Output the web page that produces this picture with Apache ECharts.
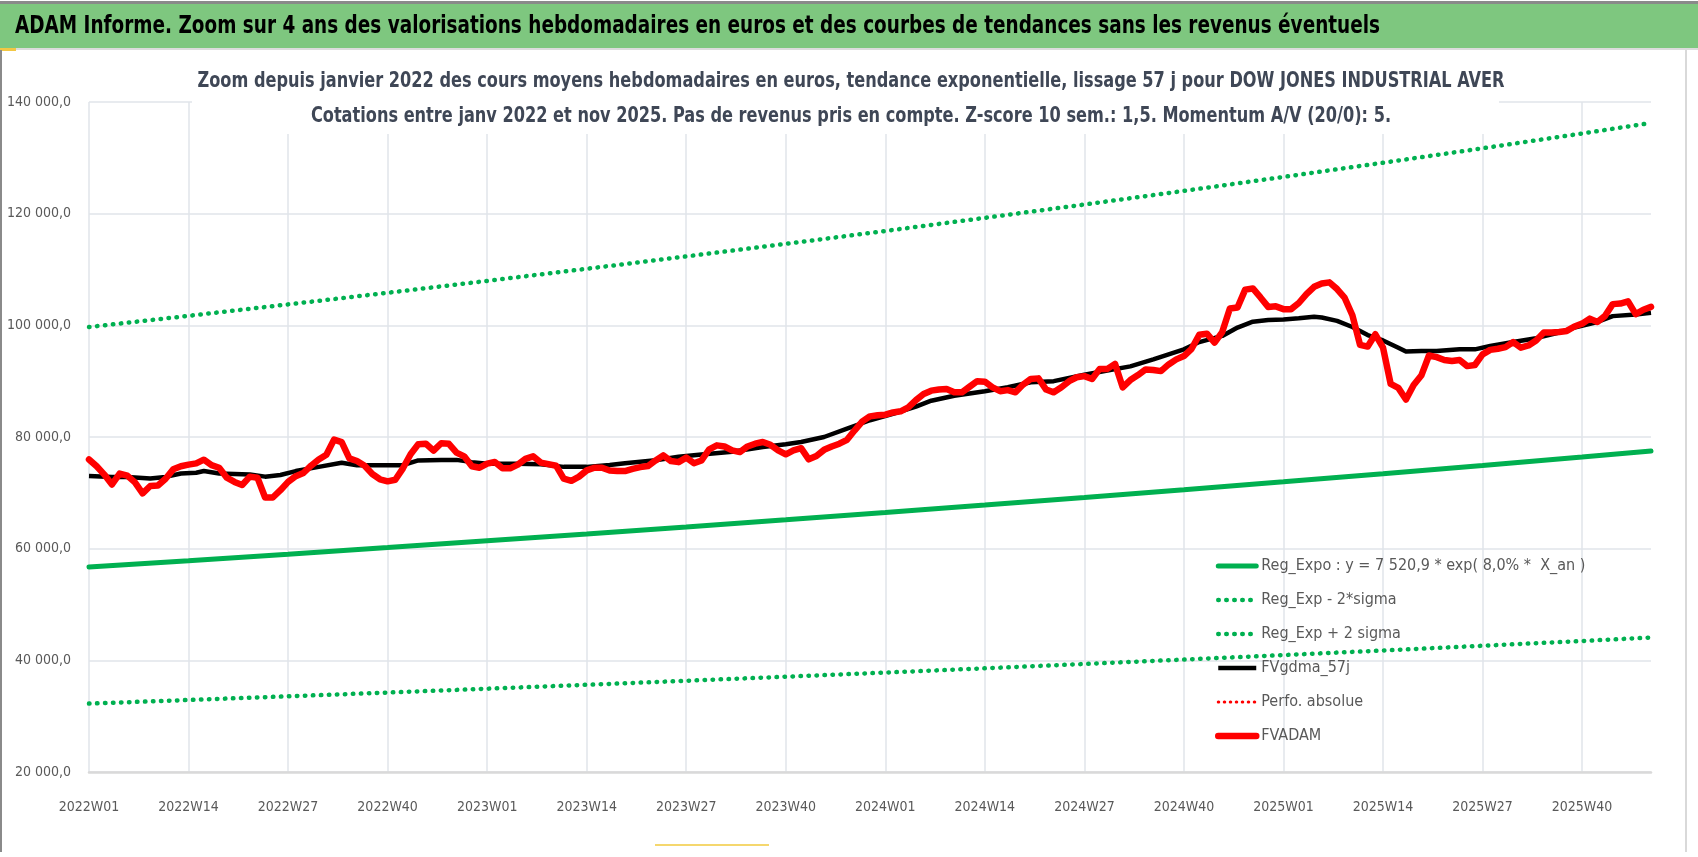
<!DOCTYPE html>
<html>
<head>
<meta charset="utf-8">
<title>ADAM Informe - DOW JONES INDUSTRIAL AVER</title>
<script src="https://cdn.jsdelivr.net/npm/echarts@6/dist/echarts.min.js"></script>
<style>
html, body { margin: 0; padding: 0; background: #fff; }
#chart { width: 1698px; height: 857px; }
</style>
</head>
<body>
<div id="chart"></div>
<script>
// libellés de l'axe X (une graduation toutes les 13 semaines)
const weekTicks = ['2022W01', '2022W14', '2022W27', '2022W40', '2023W01', '2023W14', '2023W27', '2023W40',
  '2024W01', '2024W14', '2024W27', '2024W40', '2025W01', '2025W14', '2025W27', '2025W40'];

// semaines (index depuis 2022W01) où les tendances ont été relevées
const trendWeeks = [0, 13, 26, 39, 52, 65, 78, 91, 104, 117, 130, 143, 156, 169, 182, 195, 204];
const regExpo = [56700, 57840, 59000, 60190, 61400, 62630, 63890, 65170, 66480, 67820, 69180, 70570, 71990, 73430, 74910, 76410, 77510];
const regExpMinus = [32250, 32900, 33560, 34230, 34920, 35620, 36340, 37070, 37810, 38570, 39350, 40140, 40940, 41770, 42610, 43460, 44090];
const regExpPlus = [99700, 101700, 103750, 105830, 107960, 110130, 112340, 114590, 116900, 119250, 121640, 124080, 126580, 129120, 131710, 134360, 136250];

// FVgdma_57j, relevé de la courbe noire
const fvgdmaWeeks = [0, 3, 5, 8, 10, 12, 14, 15, 17, 21, 23, 25, 27, 30, 33, 35, 38, 41, 43, 46,
  48, 50, 52, 56, 59, 62, 65, 68, 70, 74, 77, 80, 84, 88, 91, 93, 96, 99, 102, 105,
  108, 110, 113, 117, 120, 123, 126, 130, 133, 136, 139, 141, 143, 145, 148, 150, 152, 154, 156, 158,
  160, 161, 163, 165, 167, 169, 171, 172, 174, 176, 179, 181, 183, 186, 189, 192, 194, 197, 199, 202, 204];
const fvgdma = [73000, 72850, 72850, 72550, 72850, 73450, 73600, 73900, 73450, 73300, 72900, 73200, 73900, 74650, 75400, 74950, 74950, 74950, 75800, 75900,
  75900, 75500, 75200, 75200, 75100, 74650, 74650, 75000, 75300, 75850, 76450, 76850, 77350, 78200, 78700, 79100, 80000, 81500, 83000, 84150,
  85450, 86500, 87400, 88200, 88900, 89800, 90000, 91150, 91900, 92650, 93900, 94800, 95700, 97000, 98100, 99600, 100650, 100950, 101050, 101250,
  101550, 101400, 100800, 99700, 98250, 97300, 96000, 95300, 95400, 95400, 95700, 95700, 96300, 97000, 97700, 98700, 99600, 100600, 101650, 101950, 102250];

// FVADAM, une valeur par semaine de 2022W01 à 2025W49
const fvadam = [
  75980, 74770, 73270, 71500, 73460, 73090, 71870, 69910, 71220, 71310, 72530, 74210, 74770,
  75050, 75280, 75940, 74950, 74490, 72710, 71960, 71400, 72900, 72710, 69160, 69160, 70470,
  71960, 72990, 73550, 74860, 75980, 76820, 79530, 79070, 76170, 75700, 74860, 73370, 72430,
  72060, 72340, 74390, 76920, 78690, 78790, 77570, 78880, 78790, 77200, 76540, 74770, 74490,
  75230, 75520, 74390, 74390, 75050, 76080, 76540, 75420, 75140, 74860, 72530, 72150, 72900,
  74020, 74490, 74500, 74000, 73900, 73900, 74300, 74600, 74800, 75800, 76700, 75700, 75500,
  76300, 75300, 75800, 77800, 78500, 78300, 77600, 77300, 78300, 78800, 79100, 78600, 77600,
  76900, 77600, 78000, 76000, 76600, 77700, 78300, 78800, 79500, 81200, 82800, 83700, 83900,
  84000, 84400, 84600, 85300, 86600, 87700, 88300, 88500, 88600, 88000, 88000, 89000, 90000,
  89900, 88900, 88200, 88400, 88000, 89400, 90400, 90500, 88500, 88000, 88900, 90000, 90700,
  90900, 90400, 92200, 92200, 93100, 88900, 90200, 91100, 92100, 92000, 91800, 93000, 93900,
  94500, 95800, 98300, 98500, 96900, 98800, 103000, 103200, 106400, 106600, 105000, 103300, 103400,
  102900, 102900, 104000, 105600, 106900, 107500, 107700, 106500, 104900, 101800, 96500, 96200, 98400,
  96000, 89500, 88800, 86700, 89300, 91000, 94600, 94300, 93800, 93600, 93800, 92700, 92900,
  94800, 95600, 95800, 96100, 97000, 96000, 96400, 97300, 98700, 98700, 98800, 99000, 99800,
  100300, 101200, 100600, 101700, 103800, 103900, 104300, 102000, 102800, 103300];

// Perfo. absolue : présente dans la légende, aucune courbe visible
const perfoAbsolue = [];

const legendNames = ['Reg_Expo : y = 7 520,9 * exp( 8,0% *  X_an )', 'Reg_Exp - 2*sigma', 'Reg_Exp + 2 sigma',
  'FVgdma_57j', 'Perfo. absolue', 'FVADAM'];

const mainTitle = 'ADAM Informe. Zoom sur 4 ans des valorisations hebdomadaires en euros et des courbes de tendances sans les revenus éventuels';
const subTitle1 = 'Zoom depuis janvier 2022 des cours moyens hebdomadaires en euros, tendance exponentielle, lissage 57 j pour DOW JONES INDUSTRIAL AVER';
const subTitle2 = 'Cotations entre janv 2022 et nov 2025. Pas de revenus pris en compte. Z-score 10 sem.: 1,5. Momentum A/V (20/0): 5.';

const FONT = "'DejaVu Sans Condensed', 'DejaVu Sans', sans-serif";
const DOTS = [0.5, 7.5];

// la police d'origine (Calibri) est plus étroite : on resserre les titres
var measureCtx = document.createElement('canvas').getContext('2d');
function squeeze(text, font, target) {
  measureCtx.font = font;
  return Math.min(1, target / measureCtx.measureText(text).width);
}
const mainFont = 'bold 24px ' + FONT;
const subFont = 'bold 21px ' + FONT;
const mainScale = squeeze(mainTitle, mainFont, 1365);
const subScale = squeeze(subTitle1, subFont, 1307);

function pairs(weeks, values) {
  return weeks.map(function (w, i) { return [w, values[i]]; });
}

function frNumber(v) {
  return String(v).replace(/\B(?=(\d{3})+(?!\d))/g, ' ') + ',0';
}

var myChart = echarts.init(document.getElementById('chart'));

var option = {
  animation: false,
  backgroundColor: '#fff',
  graphic: [
    { type: 'rect', z: 0, shape: { x: 0, y: 1, width: 1698, height: 3 }, style: { fill: '#8a8a8a' } },
    { type: 'rect', z: 0, shape: { x: 0, y: 4, width: 1698, height: 44 }, style: { fill: '#7ec77f' } },
    { type: 'rect', z: 0, shape: { x: 0, y: 48, width: 1698, height: 2 }, style: { fill: '#dcdcdc' } },
    { type: 'rect', z: 0, shape: { x: 0, y: 48, width: 16, height: 3 }, style: { fill: '#f2c744' } },
    { type: 'rect', z: 0, shape: { x: 0, y: 50, width: 2, height: 802 }, style: { fill: '#8a8a8a' } },
    { type: 'rect', z: 0, shape: { x: 1685, y: 50, width: 2, height: 802 }, style: { fill: '#d9d9d9' } },
    { type: 'rect', z: 0, shape: { x: 655, y: 844, width: 114, height: 2 }, style: { fill: '#f5d76e' } },
    // cadre du titre du graphique (masque le quadrillage)
    { type: 'rect', z: 1, shape: { x: 192, y: 58, width: 1307, height: 76 }, style: { fill: '#fff' } },
    {
      type: 'text', z: 10, x: 15, y: 27, scaleX: mainScale,
      style: { text: mainTitle, font: mainFont, fill: '#000', align: 'left', verticalAlign: 'middle' }
    },
    {
      type: 'text', z: 10, x: 851, y: 82, scaleX: subScale,
      style: { text: subTitle1, font: subFont, fill: '#3f4756', align: 'center', verticalAlign: 'middle' }
    },
    {
      type: 'text', z: 10, x: 851, y: 117, scaleX: subScale,
      style: { text: subTitle2, font: subFont, fill: '#3f4756', align: 'center', verticalAlign: 'middle' }
    }
  ],
  grid: { left: 89, right: 47, top: 102, bottom: 85 },
  legend: {
    orient: 'vertical',
    left: 1210,
    top: 552,
    itemWidth: 38,
    itemHeight: 14,
    itemGap: 16,
    selectedMode: false,
    itemStyle: { opacity: 0 },
    lineStyle: { width: 'inherit' },
    textStyle: { fontFamily: FONT, fontSize: 16, color: '#595959', lineHeight: 18 },
    data: legendNames
  },
  xAxis: {
    type: 'value',
    min: 0,
    max: 204,
    interval: 13,
    axisLine: { show: true, onZero: false, lineStyle: { color: '#d9d9d9', width: 2.5 } },
    axisTick: { show: false },
    axisLabel: {
      margin: 28,
      fontFamily: FONT,
      fontSize: 14,
      color: '#595959',
      formatter: function (v) { return v % 13 === 0 ? (weekTicks[v / 13] || '') : ''; }
    },
    splitLine: { show: true, showMaxLine: false, lineStyle: { color: '#e1e4ea', width: 1.5 } }
  },
  yAxis: {
    type: 'value',
    min: 20000,
    max: 140000,
    interval: 20000,
    axisLine: { show: false },
    axisTick: { show: false },
    axisLabel: { margin: 18, fontFamily: FONT, fontSize: 14, color: '#595959', formatter: frNumber },
    splitLine: { lineStyle: { color: '#e1e4ea', width: 1.5 } }
  },
  series: [{
    name: legendNames[0],
    type: 'line',
    symbol: 'none',
    data: pairs(trendWeeks, regExpo),
    itemStyle: { color: '#00b050' },
    lineStyle: { color: '#00b050', width: 5, cap: 'round' }
  }, {
    name: legendNames[1],
    type: 'line',
    symbol: 'none',
    data: pairs(trendWeeks, regExpMinus),
    itemStyle: { color: '#00b050' },
    lineStyle: { color: '#00b050', width: 4.5, type: DOTS, cap: 'round' }
  }, {
    name: legendNames[2],
    type: 'line',
    symbol: 'none',
    data: pairs(trendWeeks, regExpPlus),
    itemStyle: { color: '#00b050' },
    lineStyle: { color: '#00b050', width: 4.5, type: DOTS, cap: 'round' }
  }, {
    name: legendNames[3],
    type: 'line',
    symbol: 'none',
    data: pairs(fvgdmaWeeks, fvgdma),
    itemStyle: { color: '#000' },
    lineStyle: { color: '#000', width: 4.5, join: 'round' }
  }, {
    name: legendNames[4],
    type: 'line',
    symbol: 'none',
    data: perfoAbsolue,
    itemStyle: { color: '#ff0000' },
    lineStyle: { color: '#ff0000', width: 3, type: [0.5, 5.5], cap: 'round' }
  }, {
    name: legendNames[5],
    type: 'line',
    symbol: 'none',
    data: fvadam.map(function (v, i) { return [i, v]; }),
    itemStyle: { color: '#ff0000' },
    lineStyle: { color: '#ff0000', width: 6.5, join: 'round', cap: 'round' }
  }]
};

myChart.setOption(option);
</script>
</body>
</html>
